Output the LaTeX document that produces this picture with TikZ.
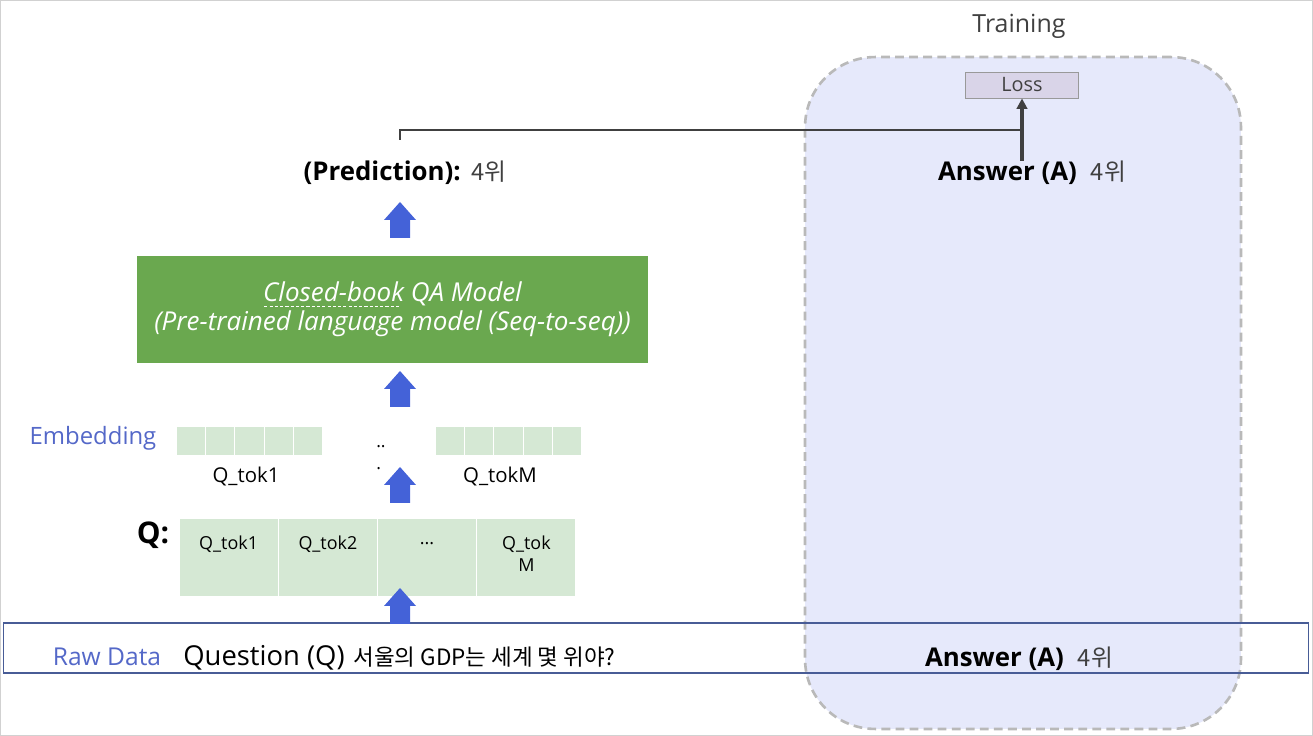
\documentclass[tikz,border=0pt]{standalone}
\usepackage{fontspec}
\usetikzlibrary{arrows.meta}
\setmainfont{Open Sans}
\newfontfamily\kr{Noto Sans CJK KR}
\definecolor{arrowblue}{RGB}{68,98,216}
\definecolor{labelblue}{RGB}{84,104,200}
\definecolor{modelgreen}{RGB}{106,168,79}
\definecolor{cellgreen}{RGB}{213,232,212}
\definecolor{regionfill}{RGB}{230,233,251}
\definecolor{regionline}{RGB}{185,185,185}
\definecolor{lossfill}{RGB}{217,212,232}
\definecolor{rawline}{RGB}{72,92,150}
\definecolor{darktext}{RGB}{64,64,64}
\newsavebox{\ulbox}
\newcommand{\dashul}[1]{\sbox{\ulbox}{#1}\rlap{\raisebox{-2.8pt}{\leaders\hbox to 3pt{\hss\rule{1.8pt}{0.5pt}\hss}\hskip\wd\ulbox}}\usebox{\ulbox}}
\newcommand{\blockup}[2]{\fill[arrowblue] (#1,#2) -- ++(16,18) -- ++(-6,0) -- ++(0,18) -- ++(-20,0) -- ++(0,-18) -- ++(-6,0) -- cycle;}
\tikzset{
    txt/.style={inner sep=0pt, text=black},
    emb/.style={fill=cellgreen, draw=white, line width=0.6pt, minimum width=0.588cm, minimum height=0.6cm, inner sep=0pt},
    qcell/.style={fill=cellgreen, draw=white, line width=0.6pt, minimum width=1.985cm, minimum height=1.58cm, inner sep=0pt},
}
\begin{document}
\begin{tikzpicture}[x=0.02cm, y=-0.02cm]
            \useasboundingbox (0,0) rectangle (1313,736);
            \draw[black!18] (0.5,0.5) rectangle (1312.5,735.5);

            \node at (1023,393) [fill=regionfill, draw=regionline, dash pattern=on 5pt off 3pt, line width=1.5pt, rounded corners=1.4cm, minimum width=8.72cm, minimum height=13.44cm] (region) {};
            \node at (656,648) [draw=rawline, line width=0.6pt, minimum width=26.12cm, minimum height=1cm, inner sep=0pt] (raw) {};

            \node at (1019,26) [txt, text=darktext, font=\fontsize{14.2}{17}\selectfont] (train) {Training};
            \node at (1022,85) [fill=lossfill, draw=black!40, line width=0.5pt, minimum width=2.26cm, minimum height=0.52cm, inner sep=0pt, text=darktext, font=\fontsize{11.3}{13}\selectfont] (loss) {Loss};

            \node at (405,173) [txt] (pred) {\fontsize{14.7}{17}\selectfont\bfseries (Prediction):\hspace{6pt}{\mdseries\kr\fontsize{13.5}{15}\selectfont\color{darktext}4위}};
            \node at (1032,173) [txt] (ans) {\fontsize{14.7}{17}\selectfont\bfseries Answer (A)\hspace{8pt}{\mdseries\kr\fontsize{13.5}{15}\selectfont\color{darktext}4위}};
            \coordinate (p) at (400,140);
            \draw[darktext, line width=0.6pt] (p) |- (loss.south |- 0,130);
            \draw[darktext, line width=1.8pt, -{Triangle[width=6pt,length=6pt]}] (loss.south |- ans.north) -- (loss.south);

            \node at (392.5,309.5) [fill=modelgreen, minimum width=10.22cm, minimum height=2.14cm, inner sep=0pt, text=white, align=center, font=\fontsize{14.8}{16.5}\selectfont\itshape] (model) {\raisebox{-3pt}{\dashul{Closed-book} QA Model}\\\raisebox{-3pt}{(Pre-trained language model (Seq-to-seq))}};

            \node at (93,438) [txt, text=labelblue, font=\fontsize{13.6}{15}\selectfont] (emb) {Embedding};
            \foreach \i in {0,...,4} {
                \node at (190.7+29.4*\i,441) [emb] (l\i) {};
                \node at (449.7+29.4*\i,441) [emb] (r\i) {};
            }
            \node at (381,458) [txt, align=left, font=\fontsize{10}{12.5}\selectfont] (dots) {..\\.};
            \node at (246,476) [txt, font=\fontsize{11.6}{13}\selectfont] (tokA) {Q\_tok1};
            \node at (500,476) [txt, font=\fontsize{11.6}{13}\selectfont] (tokM) {Q\_tokM};

            \node at (153,535) [txt, font=\fontsize{17}{20}\selectfont\bfseries] (qlab) {Q:};
            \node at (228.6,557.5) [qcell] (q1) {};
            \node at (327.9,557.5) [qcell] (q2) {};
            \node at (427.1,557.5) [qcell] (q3) {};
            \node at (526.4,557.5) [qcell] (q4) {};
            \node at (228.6,544) [txt, font=\fontsize{10.2}{12}\selectfont] (t1) {Q\_tok1};
            \node at (327.9,544) [txt, font=\fontsize{10.2}{12}\selectfont] (t2) {Q\_tok2};
            \node at (427.1,544) [txt, font=\fontsize{10.2}{12}\selectfont] (t3) {...};
            \node at (526.4,554) [txt, align=center, font=\fontsize{10.2}{12.5}\selectfont] (t4) {Q\_tok\\M};

            \blockup{400}{202}
            \blockup{400}{371}
            \blockup{400}{467}
            \blockup{400}{588}

            \node at (107,657) [txt, text=labelblue, font=\fontsize{14}{16}\selectfont] (rawlab) {Raw Data};
            \node at (183,658) [txt, anchor=west, font=\fontsize{15.6}{18}\selectfont] (ques) {Question (Q)\hspace{5pt}{\kr\fontsize{12.8}{15}\selectfont 서울의 GDP는 세계 몇 위야?}};
            \node at (1019,659) [txt] (ans2) {\fontsize{14.7}{17}\selectfont\bfseries Answer (A)\hspace{8pt}{\mdseries\kr\fontsize{13.5}{15}\selectfont\color{darktext}4위}};
\end{tikzpicture}
\end{document}
